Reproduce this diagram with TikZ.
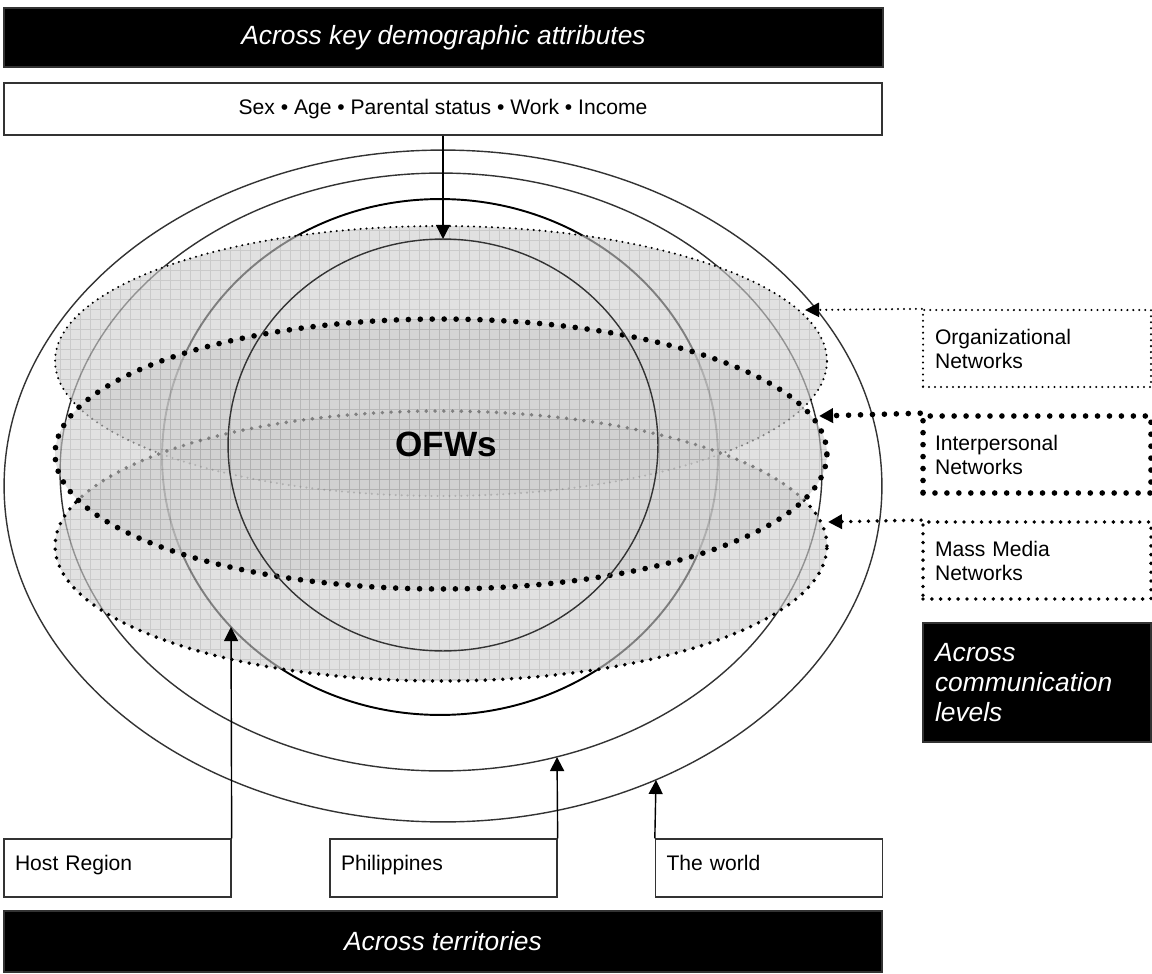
\documentclass[tikz,border=0pt]{standalone}
\usepackage{fontspec}
\setmainfont{Liberation Sans}
\usetikzlibrary{arrows.meta, positioning}
\tikzset{
  bar/.style={fill=black, draw=black!80, line width=0.8pt, text=white, inner sep=0pt,
    font=\fontsize{15}{17.3}\selectfont\itshape}, % black title strips
  plainbox/.style={draw=black!80, line width=0.8pt, fill=white, inner sep=0pt,
    font=\fontsize{12}{14}\selectfont},
  placebox/.style={plainbox, inner xsep=0.22cm, text width=4.1cm, align=left,
    text height=9pt, text depth=6pt, minimum height=1.16cm}, % boxes under the rings
  netbox/.style={fill=white, inner xsep=0.24cm, inner ysep=0pt, text width=4.08cm,
    align=left, minimum height=1.54cm, font=\fontsize{12}{13.7}\selectfont},
  orgdots/.style={line width=1.3pt, dash pattern=on 0pt off 3.4pt, line cap=round},
  massdots/.style={line width=2.2pt, dash pattern=on 0pt off 5pt, line cap=round},
  interdots/.style={line width=3.2pt, dash pattern=on 0pt off 6.8pt, line cap=round},
  ring/.style={draw=black!80, line width=0.8pt},
  netfill/.style={fill=black!19, fill opacity=0.62},
  gridline/.style={draw=black, draw opacity=0.1, line width=0.5pt},
  feed/.style={-{Triangle[length=8pt,width=8pt]}, line width=0.8pt},
  tap/.style={-{Triangle[length=8pt,width=8pt]}},
}
\begin{document}
\begin{tikzpicture}[x=0.02cm, y=0.02cm]
\useasboundingbox (0,0) rectangle (1152,-973);
\fill[white] (0,0) rectangle (1152,-973);

% territorial rings
\draw[ring] (443,-486) ellipse [x radius=8.78cm, y radius=6.72cm];
\draw[ring] (441,-472) ellipse [x radius=7.62cm, y radius=5.98cm];
\draw[ring, draw=black, line width=1.1pt] (440,-457) ellipse [x radius=5.56cm, y radius=5.16cm];

% communication levels
\foreach \cy/\rim in {361/orgdots, 546/massdots, 454/interdots}{
  \fill[netfill] (441,-\cy) ellipse [x radius=7.72cm, y radius=2.7cm];
  \begin{scope}
    \clip (441,-\cy) ellipse [x radius=7.72cm, y radius=2.7cm];
    \draw[gridline, step=0.2cm] (40,-\cy-140) grid (845,-\cy+140);
  \end{scope}
  \draw[\rim] (441,-\cy) ellipse [x radius=7.72cm, y radius=2.7cm];
}

% OFWs core
\draw[ring] (443,-445) ellipse [x radius=4.3cm, y radius=4.12cm];
\node[font=\fontsize{20}{24}\selectfont\bfseries] (ofws) at (446,-444) {OFWs};

% top
\node[bar, minimum width=17.58cm, minimum height=1.18cm] (topbar) at (443.5,-37.5) {Across key demographic attributes};
\node[plainbox, minimum width=17.56cm, minimum height=1.04cm] (attrbox) at (443,-109) {Sex • Age • Parental status • Work • Income};

% right
\node[netbox, draw, orgdots] (orgbox) at (1037,-348.5) {Organizational\\Networks};
\node[netbox, draw, interdots] (interbox) at (1037,-454.5) {Interpersonal\\Networks};
\node[netbox, draw, massdots] (massbox) at (1037,-560.5) {Mass Media\\Networks};
\node[bar, inner xsep=0.24cm, text width=4.08cm, align=left, minimum height=2.38cm] (levelbox) at (1037,-682.5) {Across\\communication\\levels};

% bottom
\node[placebox] (hostbox) at (117.5,-868) {Host Region};
\node[placebox] (philbox) at (443.5,-868) {Philippines};
\node[placebox] (worldbox) at (769,-868) {The world};
\node[bar, minimum width=17.56cm, minimum height=1.22cm] (terrbar) at (443,-941.5) {Across territories};

% arrow ends
\coordinate (innertop) at (443,-239);
\coordinate (hosttip) at (231,-627);
\coordinate (philtip) at (557,-757);
\coordinate (worldtip) at (656,-780);
\coordinate (orgtip) at (805,-310);
\coordinate (intertip) at (819,-416);
\coordinate (masstip) at (828,-522);

\draw[feed] (attrbox.south) -- (innertop);
\draw[feed] (hostbox.north east) -- (hosttip);
\draw[feed] (philbox.north east) -- (philtip);
\draw[feed] (worldbox.north west) -- (worldtip);
\draw[orgdots, tap] (orgbox.north west) -- (orgtip);
\draw[interdots, tap] (interbox.north west) -- (intertip);
\draw[massdots, tap] (massbox.north west) -- (masstip);
\end{tikzpicture}
\end{document}
